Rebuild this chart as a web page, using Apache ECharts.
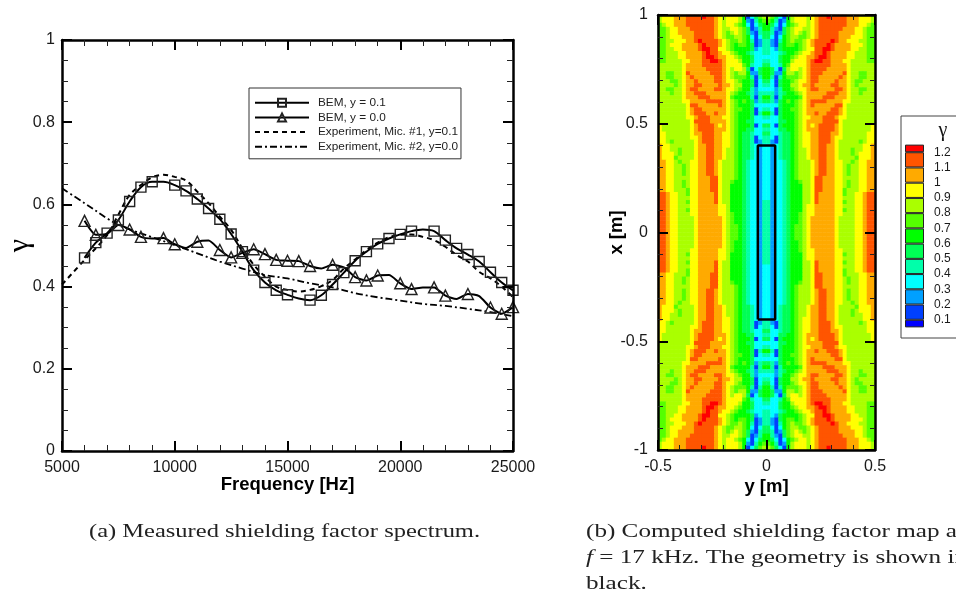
<!DOCTYPE html>
<html><head><meta charset="utf-8">
<style>html,body{margin:0;padding:0;background:#fff;overflow:hidden}#c{width:956px;height:592px}</style>
<script src="https://cdn.jsdelivr.net/npm/echarts@6/dist/echarts.min.js"></script>
</head><body><div id="c"></div>
<script>
const freq=[6000,6500,7000,7500,8000,8500,9000,9500,10000,10500,11000,11500,12000,12500,13000,13500,14000,14500,15000,15500,16000,16500,17000,17500,18000,18500,19000,19500,20000,20500,21000,21500,22000,22500,23000,23500,24000,24500,25000];
const bemY01=[.470,.507,.530,.562,.607,.642,.655,.655,.647,.633,.613,.590,.564,.528,.485,.440,.410,.391,.380,.371,.367,.379,.405,.434,.463,.485,.504,.517,.527,.535,.539,.535,.513,.493,.478,.461,.435,.410,.391];
const bemY00=[.560,.526,.528,.550,.539,.521,.517,.518,.503,.494,.509,.512,.489,.471,.482,.491,.479,.465,.463,.462,.450,.444,.453,.447,.423,.415,.427,.428,.408,.394,.398,.398,.378,.370,.382,.377,.349,.334,.350];
const noSquareAt=[9500,15500,21000];
const noTriangleAt=[7000,9000,10500,11500,16500,17500,19500,21000,22500,23500];
const mic1Freq=[5000,6000,7000,7500,8000,8500,9000,9500,10000,10500,11000,11500,12000,12500,13000,13500,14000,14500,15000,15500,16000,16500,17000,17500,18000,18500,19000,19500,20000,20500,21000,21500,22000,22500,23000,23500,24000,24500,25000];
const mic1=[.405,.465,.525,.575,.623,.647,.666,.672,.667,.658,.631,.603,.570,.538,.493,.453,.424,.400,.392,.388,.392,.401,.416,.444,.466,.489,.507,.520,.526,.527,.521,.513,.497,.477,.461,.436,.420,.400,.374];
const mic2Freq=[5000,6000,7000,7500,8000,9000,10000,11000,12000,13000,14000,15000,16000,17000,18000,19000,20000,21000,22000,23000,24000,25000];
const mic2=[.639,.603,.566,.550,.539,.520,.501,.481,.461,.444,.428,.420,.408,.398,.384,.374,.366,.358,.353,.346,.338,.328];
const seriesNames=['BEM, y = 0.1','BEM, y = 0.0','Experiment, Mic. #1, y=0.1','Experiment, Mic. #2, y=0.0'];
const geomY=[-0.04,0.04,0.04,-0.04,-0.04];
const geomX=[-0.4,-0.4,0.4,0.4,-0.4];
const bandEdges=[0.05,0.1,0.2,0.3,0.4,0.5,0.6,0.7,0.8,0.9,1.0,1.1,1.2,1.25];
const bandColors=['#0000ff','#0040ff','#00a0ff','#00ffff','#00ffaa','#00ff55','#00ff00','#55ff00','#aaff00','#ffff00','#ffaa00','#ff5500','#ff0000'];
// gamma band per cell, top-left quadrant of the map (band index in base 13: 0..9, A, B, C)
const gammaRows=[
"8999AAABBBBCBBA989998613578",
"8999AAABBBBBBBA989998621467",
"7899AAABBBBBBBA989987631356",
"77899AAABBBBBBA988998751246",
"77899AAAABBBBBA987898752145",
"778999AAABBBBBA987788763135",
"7788999AABCBBBBA98778764124",
"778999AAAABCBBBA98767765124",
"778899AAAABCCBB998766665234",
"7788899AAAABCBBA99876654334",
"7788899AAAABCCBAA9987665333",
"77888899AAABBCCBA9998665334",
"8888889AAAABBBBBA9999764335",
"8888889AAAAABBBBA9899851356",
"8877889BAAAAABBBA9878862256",
"8877889ABAAAAABBA9877764146",
"8887789AABAAAABBA9987665135",
"8888789AABBAAAABAA988665134",
"8877889ABBAAAABBA9987664233",
"8887889AABBBAAAAA9876654244",
"8888889AAABBBAAAA9766664146",
"88888899AAAABBBBA9876765245",
"88888889BBAAAAABA9876665333",
"88888889ABBAAAAAA9877665134",
"88888889ABBBAABAA9876665146",
"888888899ABBBAAA99876665334",
"888888889BBBBAAAA9876655333",
"988888889ABBBBA9A9876665135",
"988888889ABBBBAAA9876655334",
"998888889AABBBAA99876554335",
"9988888899ABBBAA99876554134",
"9987888889ABBBAA99876554124",
"A998888889AABBAA99876554323",
"A998878889AABBAA98876554323",
"A999878889AABBAA98876554323",
"A999788889AABBAA98876554323",
"AA99878899AABBA988876543323",
"AA99887899AABBA988876543323",
"AA99887899AABBA988876543323",
"AA99887899AABBA988876543323",
"AA99888899AAABB988876543323",
"AA99887899AAABB988766543323",
"AA99887899AAABB988666543323",
"AA99888799AAABB988666543323",
"BBA9988799AAAAB988666543323",
"BBA9988899AAAAB988666543323",
"BBA9988799AAAAB988666543324",
"BBA9988899AAAAA998666543324",
"BBA9988799AAAAA998666543324",
"BBA9988899AAAAA998766543324",
"BBA9988889AAAAAA98766543324",
"BBA9988889AAAAAA98766543324",
"BBA9988889AAAAAA98776543324",
"BBA9988889AAAAAA98776543324"
];
const bandMid=b=>(bandEdges[b]+bandEdges[b+1])/2;
const halfCols=gammaRows[0].length, halfRows=gammaRows.length, nC=halfCols*2, nR=halfRows*2;
const mapData=[];
for(let r=0;r<nR;r++){const rr=r<halfRows?r:nR-1-r;
  for(let c=0;c<nC;c++){const cc=c<halfCols?c:nC-1-c;
    mapData.push([c,r,bandMid(parseInt(gammaRows[rr][cc],13))]);}}
const idx=n=>Array.from({length:n},(_,i)=>i);
const SANS='"Liberation Sans",Arial,sans-serif', SERIF='"Liberation Serif",serif';
const zip=(a,b)=>a.map((v,i)=>[v,b[i]]);
const lbl={fontFamily:SANS,fontSize:16,color:'#1a1a1a'};
const boxLine={show:true,onZero:false,lineStyle:{color:'#000',width:2.5}};
const frame=(g,extra,minorN,major,minor)=>Object.assign({type:'value',gridIndex:g,splitLine:{show:false},z:5,
  axisLine:boxLine,axisTick:{show:true,inside:true,length:major,lineStyle:{color:'#000',width:2}},
  minorTick:{show:true,splitNumber:minorN,length:minor,lineStyle:{color:'#222',width:1}},minorSplitLine:{show:false}},extra);
const strFmt=v=>String(+(+v).toFixed(2));
const noLabel={axisLabel:{show:false}};
const titleFont={fontFamily:SANS,fontSize:18.5,fontWeight:'bold',color:'#000'};
const xAxis=[
 frame(0,{position:'bottom',min:5000,max:25000,interval:5000,name:'Frequency [Hz]',nameLocation:'middle',nameGap:24,nameMoveOverlap:false,nameTextStyle:titleFont,
   axisLabel:Object.assign({formatter:strFmt,margin:9,showMinLabel:true,showMaxLabel:true},lbl)},5,10,6),
 frame(0,Object.assign({position:'top',min:5000,max:25000,interval:5000},noLabel),5,10,6),
 {type:'category',gridIndex:1,data:idx(nC),show:false},
 frame(2,{position:'bottom',min:-0.5,max:0.5,interval:0.5,name:'y [m]',nameLocation:'middle',nameGap:27,nameMoveOverlap:false,nameTextStyle:titleFont,
   axisLabel:Object.assign({formatter:strFmt,margin:9,showMinLabel:true,showMaxLabel:true},lbl)},5,10,5),
 frame(2,Object.assign({position:'top',min:-0.5,max:0.5,interval:0.5},noLabel),5,10,5),
 {type:'category',gridIndex:3,data:['γ'],show:false}
];
const yAxis=[
 frame(0,{position:'left',min:0,max:1,interval:0.2,name:'γ',nameLocation:'middle',nameGap:27,nameMoveOverlap:false,nameRotate:90,
   nameTextStyle:{fontFamily:SERIF,fontSize:30,color:'#000'},
   axisLabel:Object.assign({formatter:strFmt,margin:7,showMinLabel:true,showMaxLabel:true},lbl)},4,10,6),
 frame(0,Object.assign({position:'right',min:0,max:1,interval:0.2},noLabel),4,10,6),
 {type:'category',gridIndex:1,data:idx(nR),inverse:true,show:false},
 frame(2,{position:'left',min:-1,max:1,interval:0.5,name:'x [m]',nameLocation:'middle',nameGap:32,nameMoveOverlap:false,nameRotate:90,nameTextStyle:titleFont,
   axisLabel:Object.assign({formatter:strFmt,margin:10,showMinLabel:true,showMaxLabel:true},lbl)},5,10,5),
 frame(2,Object.assign({position:'right',min:-1,max:1,interval:0.5},noLabel),5,10,5),
 {type:'value',gridIndex:3,position:'right',min:0,max:1.3,interval:0.1,splitLine:{show:false},axisLine:{show:false},axisTick:{show:false},
  axisLabel:{margin:10,fontFamily:SANS,fontSize:12,color:'#1a1a1a',padding:[5,0,0,0],
    formatter:v=>{const s=+(+v).toFixed(1);return (s<0.05||s>1.25)?'':String(s);}}}
];
const markerStyle={color:'transparent',borderColor:'#222',borderWidth:1.4};
const marked=(xs,ys,hidden)=>xs.map((x,i)=>hidden.includes(x)?{value:[x,ys[i]],symbol:'none'}:[x,ys[i]]);
const series=[
 {name:seriesNames[0],type:'line',xAxisIndex:0,yAxisIndex:0,data:marked(freq,bemY01,noSquareAt),smooth:0.35,showAllSymbol:true,symbolSize:10,
  symbol:'rect',itemStyle:markerStyle,lineStyle:{color:'#000',width:2},z:4},
 {name:seriesNames[1],type:'line',xAxisIndex:0,yAxisIndex:0,data:marked(freq,bemY00,noTriangleAt),smooth:0.2,showAllSymbol:true,symbolSize:11,
  symbol:'triangle',itemStyle:markerStyle,lineStyle:{color:'#000',width:2},z:4},
 {name:seriesNames[2],type:'line',xAxisIndex:0,yAxisIndex:0,data:zip(mic1Freq,mic1),smooth:0.35,showSymbol:false,symbol:'none',
  lineStyle:{color:'#000',width:2,type:[5,4]},itemStyle:{color:'transparent',borderWidth:0},z:3},
 {name:seriesNames[3],type:'line',xAxisIndex:0,yAxisIndex:0,data:zip(mic2Freq,mic2),smooth:0.35,showSymbol:false,symbol:'none',
  lineStyle:{color:'#000',width:1.8,type:[7,3,2,3]},itemStyle:{color:'transparent',borderWidth:0},z:3},
 {type:'heatmap',xAxisIndex:2,yAxisIndex:2,data:mapData,progressive:0,silent:true,z:1,itemStyle:{borderWidth:0}},
 {type:'line',xAxisIndex:3,yAxisIndex:3,data:zip(geomY,geomX),symbol:'none',silent:true,lineStyle:{color:'#000',width:2.5},z:6},
];
// colour bar: stacked bands from bandEdges
series.push({type:'bar',xAxisIndex:5,yAxisIndex:5,stack:'cb',data:[bandEdges[0]],barWidth:'100%',silent:true,itemStyle:{color:'transparent'},z:3});
bandColors.forEach((col,i)=>series.push({type:'bar',xAxisIndex:5,yAxisIndex:5,stack:'cb',data:[+(bandEdges[i+1]-bandEdges[i]).toFixed(3)],barWidth:'100%',silent:true,
  itemStyle:{color:col,borderColor:'#222',borderWidth:1},z:3}));
const pieces=bandColors.map((col,i)=>({gte:bandEdges[i],lt:bandEdges[i+1],color:col}));
const capFont='19.5px '+SERIF;
const cap=(x,y,scale,text,extra)=>({type:'text',z:10,x,y,scaleX:scale,style:Object.assign({text,font:capFont,fill:'#222',textVerticalAlign:'middle'},extra||{})});
const chart=echarts.init(document.getElementById('c'),null,{renderer:'canvas'});
chart.setOption({
 animation:false,backgroundColor:'#fff',
 grid:[
  {left:62,top:40,width:451,height:411,outerBoundsMode:'none'},
  {left:658,top:15,width:217,height:435,outerBoundsMode:'none'},
  {left:658,top:15,width:217,height:435,outerBoundsMode:'none'},
  {left:905,top:137,width:19,height:198,outerBoundsMode:'none'}
 ],
 xAxis,yAxis,series,
 visualMap:{type:'piecewise',show:false,seriesIndex:4,dimension:2,pieces},
 legend:{data:seriesNames,orient:'vertical',left:249,top:88,align:'left',
  itemWidth:54,itemHeight:10,itemGap:0.7,padding:[7.7,3,5,5],backgroundColor:'#fff',borderColor:'#333',borderWidth:1,selectedMode:false,
  textStyle:{fontFamily:SANS,fontSize:11.8,lineHeight:14,color:'#222',padding:[0,0,0,4]}},
 graphic:[
  {type:'rect',z:0,shape:{x:901,y:116,width:70,height:222},style:{fill:'#fff',stroke:'#444',lineWidth:1}},
  {type:'text',z:10,x:943,y:131,style:{text:'γ',font:'20px '+SERIF,fill:'#111',textAlign:'center',textVerticalAlign:'middle'}},
  cap(89,532,1.256,'(a) Measured shielding factor spectrum.'),
  cap(586,532,1.29,'(b) Computed shielding factor map at'),
  cap(586,558,1.29,'{i|f} = 17 kHz. The geometry is shown in',{rich:{i:{font:'italic 19.5px '+SERIF,fill:'#222'}}}),
  cap(586,584,1.29,'black.')
 ]
});
</script></body></html>
